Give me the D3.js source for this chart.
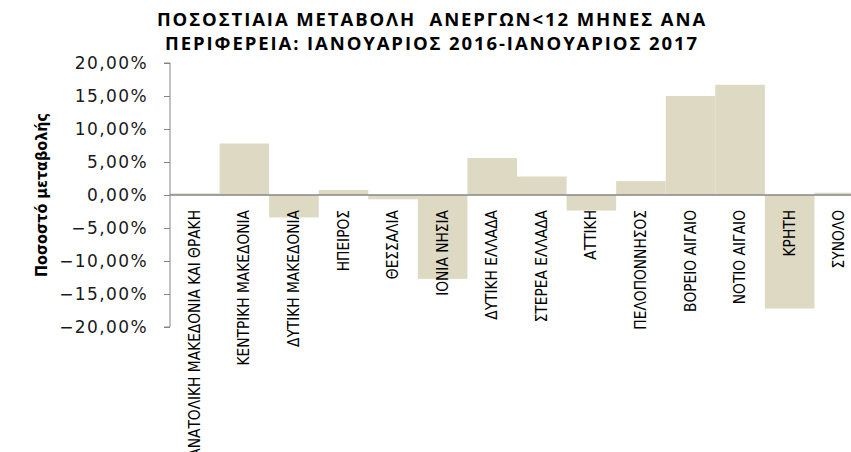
<!DOCTYPE html>
<html>
<head>
<meta charset="utf-8">
<script src="https://cdn.jsdelivr.net/npm/d3@7"></script>
<style>
  body { margin: 0; background: #fff; }
  svg { display: block; }
</style>
</head>
<body>
<div id="chart"></div>
<script>
// data
const titleLines = [
  'ΠΟΣΟΣΤΙΑΙΑ ΜΕΤΑΒΟΛΗ  ΑΝΕΡΓΩΝ<12 ΜΗΝΕΣ ΑΝΑ',
  'ΠΕΡΙΦΕΡΕΙΑ: ΙΑΝΟΥΑΡΙΟΣ 2016-ΙΑΝΟΥΑΡΙΟΣ 2017'
]
const yTitle = 'Ποσοστό μεταβολής'
const regions = [
  'ΑΝΑΤΟΛΙΚΗ ΜΑΚΕΔΟΝΙΑ ΚΑΙ ΘΡΑΚΗ', 'ΚΕΝΤΡΙΚΗ ΜΑΚΕΔΟΝΙΑ', 'ΔΥΤΙΚΗ ΜΑΚΕΔΟΝΙΑ',
  'ΗΠΕΙΡΟΣ', 'ΘΕΣΣΑΛΙΑ', 'ΙΟΝΙΑ ΝΗΣΙΑ', 'ΔΥΤΙΚΗ ΕΛΛΑΔΑ', 'ΣΤΕΡΕΑ ΕΛΛΑΔΑ',
  'ΑΤΤΙΚΗ', 'ΠΕΛΟΠΟΝΝΗΣΟΣ', 'ΒΟΡΕΙΟ ΑΙΓΑΙΟ', 'ΝΟΤΙΟ ΑΙΓΑΙΟ', 'ΚΡΗΤΗ', 'ΣΥΝΟΛΟ'
]
const changes = [0.25, 7.8, -3.4, 0.75, -0.65, -12.7, 5.6, 2.8, -2.35, 2.1, 15.0, 16.7, -17.2, 0.35]
const yTicks = [-20, -15, -10, -5, 0, 5, 10, 15, 20]

// dimensions
const width = 851, height = 452
const plot = { left: 170, right: 864, top: 63, bottom: 327 }

const svg = d3.select('#chart').append('svg')
  .attr('width', width)
  .attr('height', height)

// scales
const x = d3.scaleBand().domain(regions).range([plot.left, plot.right]).padding(0)
const y = d3.scaleLinear().domain([-20, 20]).range([plot.bottom, plot.top])

const fmt = v => d3.format('.2f')(v).replace('.', ',') + '%'

// title
svg.append('g')
  .selectAll('text')
  .data(titleLines)
  .enter().append('text')
  .attr('x', 432)
  .attr('y', (d, i) => 26 + i * 24)
  .attr('text-anchor', 'middle')
  .style('white-space', 'pre')
  .style('font-family', '"Open Sans", sans-serif')
  .style('font-weight', 700)
  .style('font-size', '18.5px')
  .style('letter-spacing', '1.9px')
  .style('fill', '#000')
  .text(d => d)

// bars
svg.append('g')
  .selectAll('rect')
  .data(changes)
  .enter().append('rect')
  .attr('x', (d, i) => x(regions[i]))
  .attr('width', x.bandwidth())
  .attr('y', d => y(Math.max(0, d)))
  .attr('height', d => Math.abs(y(d) - y(0)))
  .attr('fill', '#ddd9c3')

// y axis
const yAxis = svg.append('g')
  .attr('transform', `translate(${plot.left},0)`)
  .call(d3.axisLeft(y).tickValues(yTicks).tickSize(6).tickPadding(16).tickFormat(fmt))
yAxis.select('.domain').attr('stroke', '#868686').attr('d', `M-6,${plot.top}H0V${plot.bottom}H-6`)
yAxis.selectAll('.tick line').attr('stroke', '#868686')
yAxis.selectAll('.tick text')
  .style('font-family', '"DejaVu Sans", sans-serif')
  .style('font-size', '17px')
  .style('letter-spacing', '1.4px')
  .style('fill', '#1a1a1a')

// zero line
svg.append('line')
  .attr('x1', plot.left).attr('x2', width)
  .attr('y1', y(0)).attr('y2', y(0))
  .attr('stroke', '#868686')
  .attr('stroke-width', 1.5)

// category labels
svg.append('g')
  .selectAll('text')
  .data(regions)
  .enter().append('text')
  .attr('transform', d => `translate(${x(d) + x.bandwidth() / 2 + 5},210) rotate(-90)`)
  .attr('text-anchor', 'end')
  .style('font-family', '"Liberation Sans Narrow", "DejaVu Sans Condensed", sans-serif')
  .style('font-stretch', 'condensed')
  .style('font-size', '15.3px')
  .style('fill', '#000')
  .text(d => d)

// y title
svg.append('text')
  .attr('transform', `translate(47,195) rotate(-90)`)
  .attr('text-anchor', 'middle')
  .style('font-family', '"Liberation Sans Narrow", "DejaVu Sans Condensed", sans-serif')
  .style('font-stretch', 'condensed')
  .style('font-weight', 700)
  .style('font-size', '16px')
  .style('fill', '#000')
  .text(yTitle)
</script>
</body>
</html>
